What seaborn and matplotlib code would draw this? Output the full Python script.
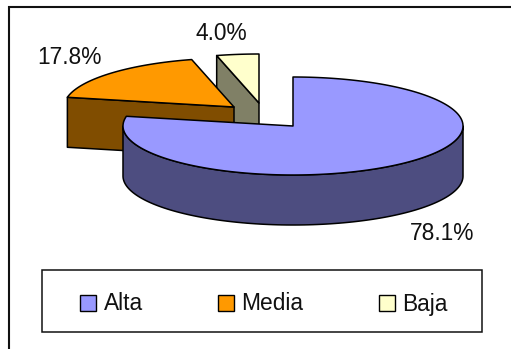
import numpy as np
import matplotlib
matplotlib.use("Agg")
import matplotlib.pyplot as plt
from matplotlib.patches import Patch, Rectangle
import seaborn as sns

# Data
categories = ["Alta", "Media", "Baja"]
percent = [78.1, 17.8, 4.0]
labels = ["78.1%", "17.8%", "4.0%"]

top_colors = ["#9999FF", "#FF9900", "#FFFFCC"]
side_colors = ["#4D4D80", "#804D00", "#808066"]

sns.set_theme(style="white")
plt.rcParams["font.family"] = ["Liberation Sans", "DejaVu Sans"]

# Layout, in pixels of the picture
cx, cy = 293, 126
rx, ry = 170, 49
depth = 50
offsets = [(0, 0), (-59, -19), (-34, -23)]
label_pos = [(442, 233.5), (69.5, 58), (221, 34)]
font_size = 16.4

fig, ax = plt.subplots(figsize=(5.11, 3.49), dpi=100)
ax.set_position([0, 0, 1, 1])
ax.set_xlim(0, 511)
ax.set_ylim(349, 0)
ax.axis("off")


def point(angle, dx, dy):
    # angle in degrees, clockwise from 12 o'clock
    a = np.radians(angle)
    return cx + dx + rx * np.sin(a), cy + dy - ry * np.cos(a)


# Chart frame: only top and left sides fall inside the picture
ax.plot([511, 9, 9], [7, 7, 349], color="#111111", lw=1.5, solid_joinstyle="miter")

edges = np.cumsum([0] + percent) / sum(percent) * 360
ln = dict(edgecolor="black", linewidth=1.1, joinstyle="round")

# Baja, Media first, Alta on top
for i in [2, 1]:
    start, end = edges[i], edges[i + 1]
    dx, dy = offsets[i]
    x0, y0 = cx + dx, cy + dy
    x1, y1 = point(start, dx, dy)
    ax.fill([x0, x1, x1, x0], [y0, y1, y1 + depth, y0 + depth],
            color=side_colors[i], **ln)
    t = np.linspace(start, end, 40)
    xs, ys = point(t, dx, dy)
    ax.fill(np.r_[x0, xs], np.r_[y0, ys], color=top_colors[i], **ln)

# Alta
t = np.linspace(90, 270, 120)
xs, ys = point(t, 0, 0)
ax.fill(np.r_[xs, xs[::-1]], np.r_[ys, ys[::-1] + depth],
        color=side_colors[0], **ln)
t = np.linspace(edges[0], edges[1], 200)
xs, ys = point(t, 0, 0)
ax.fill(np.r_[cx, xs], np.r_[cy, ys], color=top_colors[0], **ln)

for txt, (x, y) in zip(labels, label_pos):
    ax.text(x, y, txt, fontsize=font_size, color="#111111", ha="center", va="center")

# Legend box
ax.add_patch(Rectangle((42, 270), 440, 62, fc="white", ec="#111111", lw=1.1))
handles = [Patch(facecolor=c, edgecolor="black", linewidth=1) for c in top_colors]
ax.legend(handles, categories, loc="center", bbox_to_anchor=(264, 304),
          bbox_transform=ax.transData, ncol=3, frameon=False, fontsize=font_size,
          handlelength=0.7, handleheight=0.7, handletextpad=0.33,
          columnspacing=3.3, labelcolor="#111111")

fig.savefig("out.png", dpi=100, facecolor="white")
